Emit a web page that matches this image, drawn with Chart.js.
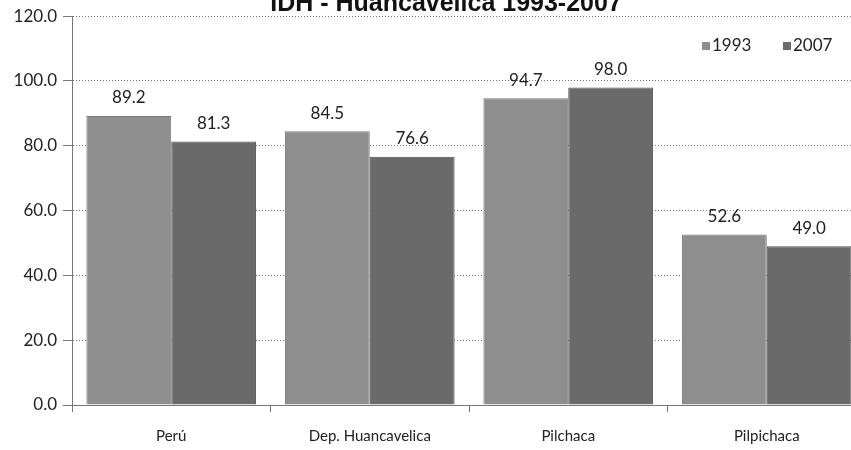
<!DOCTYPE html>
<html>
<head>
<meta charset="utf-8">
<script src="https://cdn.jsdelivr.net/npm/chart.js@4/dist/chart.umd.min.js"></script>
<style>
  html, body { margin: 0; padding: 0; background: #fff; }
  #marco { width: 851px; height: 450px; overflow: hidden; position: relative; }
</style>
</head>
<body>
<div id="marco"><canvas id="grafico" width="880" height="450"></canvas></div>
<script>
const categorias = ['Perú', 'Dep. Huancavelica', 'Pilchaca', 'Pilpichaca'];
const valores1993 = [89.2, 84.5, 94.7, 52.6];
const valores2007 = [81.3, 76.6, 98.0, 49.0];
const series = ['1993', '2007'];
const tituloTexto = 'IDH - Huancavelica 1993-2007';

const fuente = 'Lato, "Open Sans", sans-serif';

// titulo cortado arriba, como en el escaneo
const tituloPlugin = {
  id: 'tituloCortado',
  afterDraw(chart) {
    const ctx = chart.ctx;
    ctx.save();
    ctx.font = 'bold 25px "Liberation Sans", Arial, sans-serif';
    ctx.fillStyle = '#111';
    ctx.textAlign = 'center';
    ctx.textBaseline = 'alphabetic';
    ctx.fillText(tituloTexto, 446, 11);
    ctx.restore();
  }
};

const etiquetasPlugin = {
  id: 'etiquetas',
  afterDatasetsDraw(chart) {
    const ctx = chart.ctx;
    ctx.save();
    ctx.font = '17px ' + fuente;
    ctx.fillStyle = '#222';
    ctx.textAlign = 'center';
    ctx.textBaseline = 'middle';
    chart.data.datasets.forEach((ds, i) => {
      chart.getDatasetMeta(i).data.forEach((bar, j) => {
        ctx.fillText(ds.data[j].toFixed(1), bar.x, bar.y - 18);
      });
    });
    ctx.restore();
  }
};

// leyenda dentro del area, arriba a la derecha
const leyendaPlugin = {
  id: 'leyendaInterna',
  afterDraw(chart) {
    const ctx = chart.ctx;
    const xs = [702, 783];
    const y = 46;
    ctx.save();
    ctx.font = '17px ' + fuente;
    ctx.textBaseline = 'middle';
    ctx.textAlign = 'left';
    chart.data.datasets.forEach((ds, i) => {
      ctx.fillStyle = ds.backgroundColor;
      ctx.fillRect(xs[i], y - 4, 8, 8);
      ctx.fillStyle = '#222';
      ctx.fillText(ds.label, xs[i] + 10, y);
    });
    ctx.restore();
  }
};

new Chart(document.getElementById('grafico'), {
  type: 'bar',
  data: {
    labels: categorias,
    datasets: [
      { label: series[0], data: valores1993, backgroundColor: '#8e8e8e', borderColor: '#777', borderWidth: 1 },
      { label: series[1], data: valores2007, backgroundColor: '#6a6a6a', borderColor: '#505050', borderWidth: 1 }
    ]
  },
  options: {
    responsive: false,
    animation: false,
    devicePixelRatio: 1,
    layout: { padding: { top: 15, right: 14, left: 0, bottom: 0 } },
    datasets: { bar: { categoryPercentage: 0.855, barPercentage: 1.0 } },
    plugins: {
      legend: { display: false },
      tooltip: { enabled: false }
    },
    scales: {
      y: {
        min: 0, max: 120,
        ticks: {
          stepSize: 20,
          padding: 6,
          color: '#222',
          font: { family: fuente, size: 17 },
          callback: v => v.toFixed(1)
        },
        grid: { color: '#777', tickLength: 9, lineWidth: 1 },
        border: { display: true, color: '#777', dash: [1, 2] },
        afterFit(scale) { scale.width = 72; }
      },
      x: {
        ticks: {
          padding: 15,
          maxRotation: 0,
          autoSkip: false,
          color: '#222',
          font: { family: fuente, size: 15 }
        },
        grid: { drawOnChartArea: false, color: '#777', tickLength: 7 },
        border: { display: true, color: '#777', dash: [1, 2] },
        afterFit(scale) { scale.height = 45; }
      }
    }
  },
  plugins: [tituloPlugin, etiquetasPlugin, leyendaPlugin]
});
</script>
</body>
</html>
